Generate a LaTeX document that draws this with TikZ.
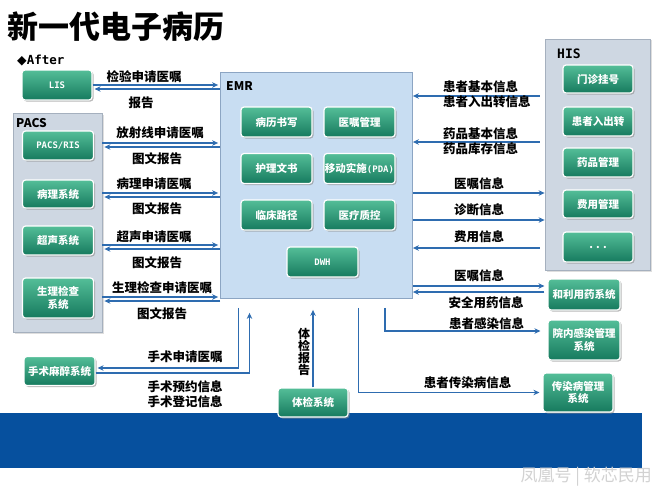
\documentclass[tikz,border=0pt]{standalone}
\usepackage{fontspec}
\setmainfont{Noto Sans CJK SC}
\setmonofont{DejaVu Sans Mono}
\newfontfamily\diamfont{DejaVu Sans}
\usetikzlibrary{shadows,arrows.meta,calc}

\definecolor{flowblue}{RGB}{46,108,176}
\definecolor{boxtop}{RGB}{84,190,152}
\definecolor{boxbottom}{RGB}{22,122,94}
\definecolor{groupfill}{RGB}{206,215,226}
\definecolor{groupline}{RGB}{165,176,190}
\definecolor{emrfill}{RGB}{200,221,242}
\definecolor{emrline}{RGB}{140,165,195}
\definecolor{bandblue}{RGB}{6,80,158}

\begin{document}
\begin{tikzpicture}[x=1pt, y=1pt,
    sysbox/.style={
      rounded corners=3pt,
      draw=white,
      line width=1.2pt,
      top color=boxtop,
      bottom color=boxbottom,
      drop shadow={shadow xshift=1.5pt, shadow yshift=-1.5pt, fill=black!45, opacity=0.6},
      text=white,
      align=center,
      inner sep=0pt,
      minimum width=71pt,
      minimum height=30pt,
      font=\fontsize{10.5}{12.5}\selectfont\bfseries
    },
    group/.style={
      draw=groupline,
      fill=groupfill,
      line width=0.8pt,
      drop shadow={shadow xshift=1.5pt, shadow yshift=-1.5pt, fill=black!25, opacity=0.5}
    },
    flow/.style={draw=flowblue, line width=1.4pt, -{Stealth[length=6pt,width=5.5pt]}},
    lbl/.style={font=\fontsize{12.5}{14.5}\selectfont\bfseries, inner sep=0pt, align=center},
    tag/.style={font=\fontsize{12}{14}\selectfont\bfseries, inner sep=0pt, anchor=west}
  ]
  \fill[white] (0,0) rectangle (660,-495);
  \useasboundingbox (0,0) rectangle (660,-495);

  \node[font=\fontsize{31}{31}\selectfont\bfseries, anchor=west, inner sep=0pt] (title)
    at (7,-27) {新一代电子病历};
  \node[font=\fontsize{12.5}{14}\selectfont\bfseries, anchor=west, inner sep=0pt] (after)
    at (17,-61) {{\diamfont ◆}\texttt{After}};

  \fill[bandblue] (0,-413) rectangle (642,-468);

  \node[group, minimum width=89pt, minimum height=219pt] (pacs) at (57.5,-222.5) {};
  \node[tag] (pacstag) at (16,-123.5) {PACS};
  \node[group, minimum width=105pt, minimum height=231pt] (his) at (597.5,-154.5) {};
  \node[tag] (histag) at (557,-53.5) {\ttfamily\fontsize{13}{14}\selectfont HIS};
  \node[draw=emrline, fill=emrfill, line width=0.8pt, minimum width=192pt,
    minimum height=226pt, inner sep=0pt] (emr) at (316.5,-185.5) {};
  \node[tag] (emrtag) at (226,-86.5) {EMR};

  \node[sysbox] (bingli) at (276.5,-122) {病历书写};
  \node[sysbox] (yizhu) at (359.5,-122) {医嘱管理};
  \node[sysbox] (huli) at (276.5,-168.5) {护理文书};
  \node[sysbox] (pda) at (359.5,-168.5)
    {移动实施{\ttfamily\fontsize{9}{11}\selectfont(PDA)}};
  \node[sysbox] (lujing) at (276.5,-215) {临床路径};
  \node[sysbox] (zhikong) at (359.5,-215) {医疗质控};
  \node[sysbox] (dwh) at (322.5,-262) {\ttfamily\fontsize{9}{11}\selectfont DWH};

  \node[sysbox, minimum width=70pt] (lis) at (57,-85)
    {\ttfamily\fontsize{9}{11}\selectfont LIS};
  \node[sysbox, minimum height=29pt] (ris) at (58,-145.5)
    {\ttfamily\fontsize{9}{11}\selectfont PACS/RIS};
  \node[sysbox, minimum height=28pt] (pathology) at (58,-194) {病理系统};
  \node[sysbox, minimum height=29pt] (ultrasound) at (58,-240.5) {超声系统};
  \node[sysbox, minimum height=40pt] (physio) at (58,-298) {生理检查\\系统};
  \node[sysbox, minimum height=29pt] (surgery) at (59.5,-371) {手术麻醉系统};

  \node[sysbox, minimum width=70pt, minimum height=28pt] (reg) at (598,-79) {门诊挂号};
  \node[sysbox, minimum width=70pt, minimum height=29pt] (inout) at (598,-121.5) {患者入出转};
  \node[sysbox, minimum width=70pt, minimum height=29pt] (drug) at (598,-162.5) {药品管理};
  \node[sysbox, minimum width=70pt, minimum height=28pt] (fee) at (598,-204) {费用管理};
  \node[sysbox, minimum width=70pt] (more) at (598,-247) {. . .};
  \node[sysbox, minimum width=72pt, minimum height=31pt] (safedrug) at (584,-294.5) {和利用药系统};
  \node[sysbox, minimum width=72pt, minimum height=40pt] (infection) at (584,-340)
    {院内感染管理\\系统};
  \node[sysbox, minimum width=70pt, minimum height=39pt] (epidemic) at (578,-392.5)
    {传染病管理\\系统};
  \node[sysbox, minimum width=70pt, minimum height=29pt] (exam) at (313,-402.5) {体检系统};

  \draw[flow, shorten >=2pt] (lis.east |- 0,-85) -- (emr.west |- 0,-85);
  \draw[flow, shorten >=2pt] (emr.west |- 0,-89) -- (lis.east |- 0,-89);
  \draw[flow, shorten >=2pt] (pacs.east |- 0,-143) -- (emr.west |- 0,-143);
  \draw[flow, shorten >=2pt] (emr.west |- 0,-147) -- (pacs.east |- 0,-147);
  \draw[flow, shorten >=2pt] (pacs.east |- 0,-193) -- (emr.west |- 0,-193);
  \draw[flow, shorten >=2pt] (emr.west |- 0,-197) -- (pacs.east |- 0,-197);
  \draw[flow, shorten >=2pt] (pacs.east |- 0,-245) -- (emr.west |- 0,-245);
  \draw[flow, shorten >=2pt] (emr.west |- 0,-249) -- (pacs.east |- 0,-249);
  \draw[flow, shorten >=2pt] (pacs.east |- 0,-297) -- (emr.west |- 0,-297);
  \draw[flow, shorten >=2pt] (emr.west |- 0,-301) -- (pacs.east |- 0,-301);

  \node[lbl] (lisreq) at (144,-77) {检验申请医嘱};
  \node[lbl] (lisrep) at (141,-102.5) {报告};
  \node[lbl] (risreq) at (160,-133) {放射线申请医嘱};
  \node[lbl] (risrep) at (157,-159) {图文报告};
  \node[lbl] (pathreq) at (154,-184) {病理申请医嘱};
  \node[lbl] (pathrep) at (157,-209) {图文报告};
  \node[lbl] (usreq) at (154,-237) {超声申请医嘱};
  \node[lbl] (usrep) at (157,-263) {图文报告};
  \node[lbl] (phyreq) at (162,-288) {生理检查申请医嘱};
  \node[lbl] (phyrep) at (162,-314) {图文报告};

  \draw[flow, shorten >=2pt] ($(emr.south)+(-78,-9)$) |- ($(surgery.east)+(0,3)$);
  \draw[flow] ($(surgery.east)+(0,-2)$) -| ($(emr.south)+(-67,-14)$);
  \node[lbl] (surgreq) at (185,-357) {手术申请医嘱};
  \node[lbl] (surginfo) at (185,-394) {手术预约信息\\手术登记信息};

  \draw[flow] (exam.north) -- ($(exam.north |- emr.south)+(0,-11)$);
  \node[lbl, font=\fontsize{12}{12.3}\selectfont\bfseries] (examrep) at (304,-352)
    {体\\检\\报\\告};

  \draw[flow, shorten >=3pt] ($(emr.south)+(42,-9)$) |- (epidemic.west);
  \draw[flow, shorten >=7pt] ($(emr.south)+(68.5,-9)$) |- ($(infection.west)+(0,9)$);
  \node[lbl] (epilbl) at (467.5,-383) {患者传染病信息};
  \node[lbl] (inflbl) at (486.5,-324) {患者感染信息};

  \draw[flow, shorten >=3pt] (emr.east |- 0,-286) -- (safedrug.west |- 0,-286);
  \draw[flow, shorten <=3pt] (safedrug.west |- 0,-292) -- (emr.east |- 0,-292);
  \node[lbl] (safereq) at (479,-276) {医嘱信息};
  \node[lbl] (safeinfo) at (486,-303) {安全用药信息};

  \draw[flow, shorten <=5pt] (his.west |- 0,-96) -- (emr.east |- 0,-96);
  \node[lbl, anchor=west, align=left] (patinfo) at (443,-94) {患者基本信息\\患者入出转信息};
  \draw[flow, shorten <=5pt] (his.west |- 0,-142) -- (emr.east |- 0,-142);
  \node[lbl, anchor=west, align=left] (druginfo) at (443,-141) {药品基本信息\\药品库存信息};
  \draw[flow] (emr.east |- 0,-193) -- (his.west |- 0,-193);
  \node[lbl] (orderinfo) at (479,-184) {医嘱信息};
  \draw[flow] (emr.east |- 0,-220) -- (his.west |- 0,-220);
  \node[lbl] (diaginfo) at (479,-210) {诊断信息};
  \draw[flow, shorten <=5pt] (his.west |- 0,-248) -- (emr.east |- 0,-248);
  \node[lbl] (feeinfo) at (479,-237) {费用信息};

  \node[font=\fontsize{17}{17}\selectfont, text=gray!35, anchor=east, inner sep=0pt] (mark)
    at (652,-477) {凤凰号 | 软芯民用};
\end{tikzpicture}
\end{document}
